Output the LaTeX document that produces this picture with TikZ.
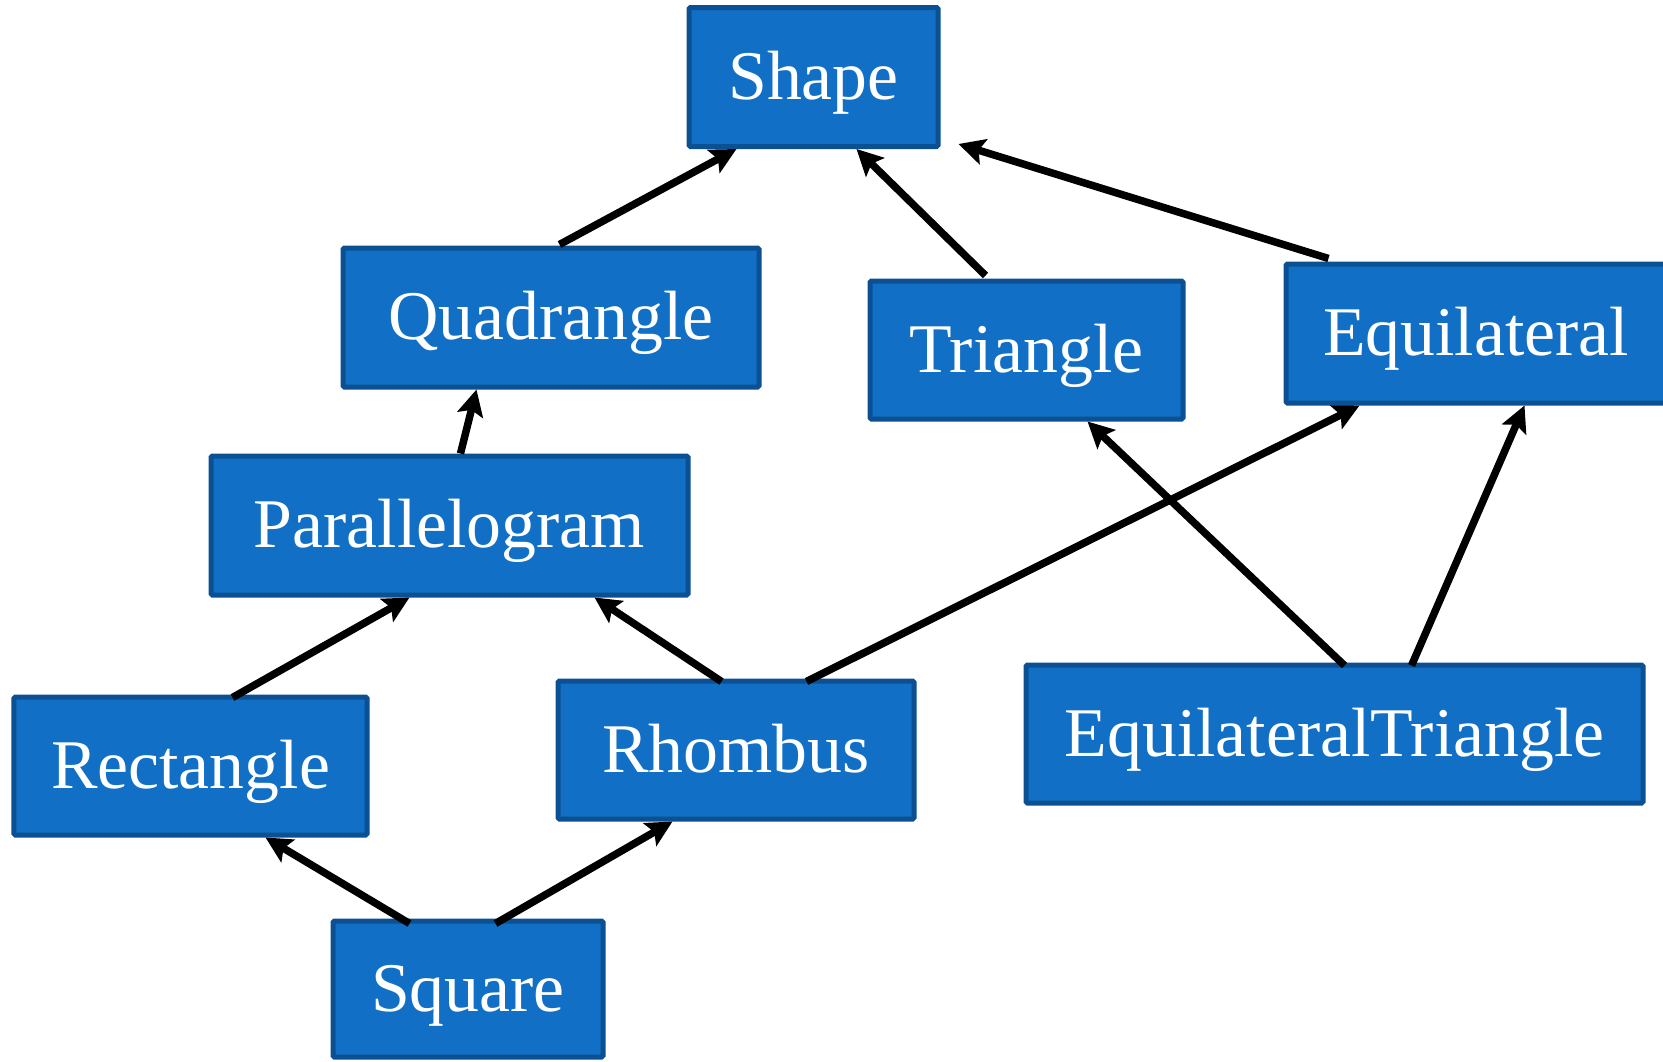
\documentclass[tikz,border=0pt]{standalone}
\usepackage{fontspec}
\setmainfont{Liberation Serif}
\usetikzlibrary{arrows.meta,calc}
\definecolor{boxfill}{RGB}{17,112,198}
\definecolor{boxline}{RGB}{11,80,146}
\tikzset{
  cls/.style={draw=boxline, line width=5bp, fill=boxfill, text=white, inner sep=0pt,
    rounded corners=1.5bp, font=\fontsize{70}{84}\selectfont, text height=48bp, text depth=4bp},
  inh/.style={line width=7.5bp, draw=black, -{Stealth[length=26bp,width=26bp,inset=5bp]}}
}
\begin{document}
\begin{tikzpicture}[x=1bp,y=-1bp]
\useasboundingbox (0,0) rectangle (1663,1061);
\clip (0,0) rectangle (1663,1061);
\node[cls, minimum width=249bp, minimum height=139bp] (shape) at (813.5,77) {Shape};
\node[cls, minimum width=416bp, minimum height=139bp] (quad) at (551,317.5) {Quadrangle};
\node[cls, minimum width=313bp, minimum height=138bp] (tri) at (1026.5,350) {Triangle};
\node[cls, minimum width=380bp, minimum height=139bp] (equi) at (1476,333.5) {Equilateral};
\node[cls, minimum width=477bp, minimum height=139bp] (para) at (449.5,525.5) {Parallelogram};
\node[cls, minimum width=353bp, minimum height=138bp] (rect) at (190.5,766) {Rectangle};
\node[cls, minimum width=356bp, minimum height=138bp] (rhomb) at (736,750) {Rhombus};
\node[cls, minimum width=617bp, minimum height=138bp] (eqtri) at (1334.5,734) {EquilateralTriangle};
\node[cls, minimum width=270bp, minimum height=136bp] (square) at (468,989) {Square};

\draw[inh] ([xshift=219bp,yshift=1bp]quad.north west) -- ([xshift=50bp]shape.south west);
\draw[inh] ([xshift=118bp,yshift=3bp]tri.north west) -- ([xshift=170bp]shape.south west);
\draw[inh] ([xshift=45bp,yshift=3bp]equi.north west) -- ([xshift=18bp,yshift=5bp]shape.south east);
\draw[inh] ([xshift=252bp]para.north west) -- ([xshift=136bp]quad.south west);
\draw[inh] ([xshift=221bp,yshift=-3bp]rect.north west) -- ([xshift=201bp]para.south west);
\draw[inh] ([xshift=166bp,yshift=-3bp]rhomb.north west) -- ([xshift=386bp]para.south west);
\draw[inh] ([xshift=251bp,yshift=-3bp]rhomb.north west) -- ([xshift=76bp]equi.south west);
\draw[inh] ([xshift=321bp,yshift=-3bp]eqtri.north west) -- ([xshift=220bp]tri.south west);
\draw[inh] ([xshift=388bp,yshift=-3bp]eqtri.north west) -- ([xshift=241bp]equi.south west);
\draw[inh] ([xshift=79bp,yshift=-5bp]square.north west) -- ([xshift=254bp]rect.south west);
\draw[inh] ([xshift=165bp,yshift=-5bp]square.north west) -- ([xshift=117bp]rhomb.south west);
\end{tikzpicture}
\end{document}
